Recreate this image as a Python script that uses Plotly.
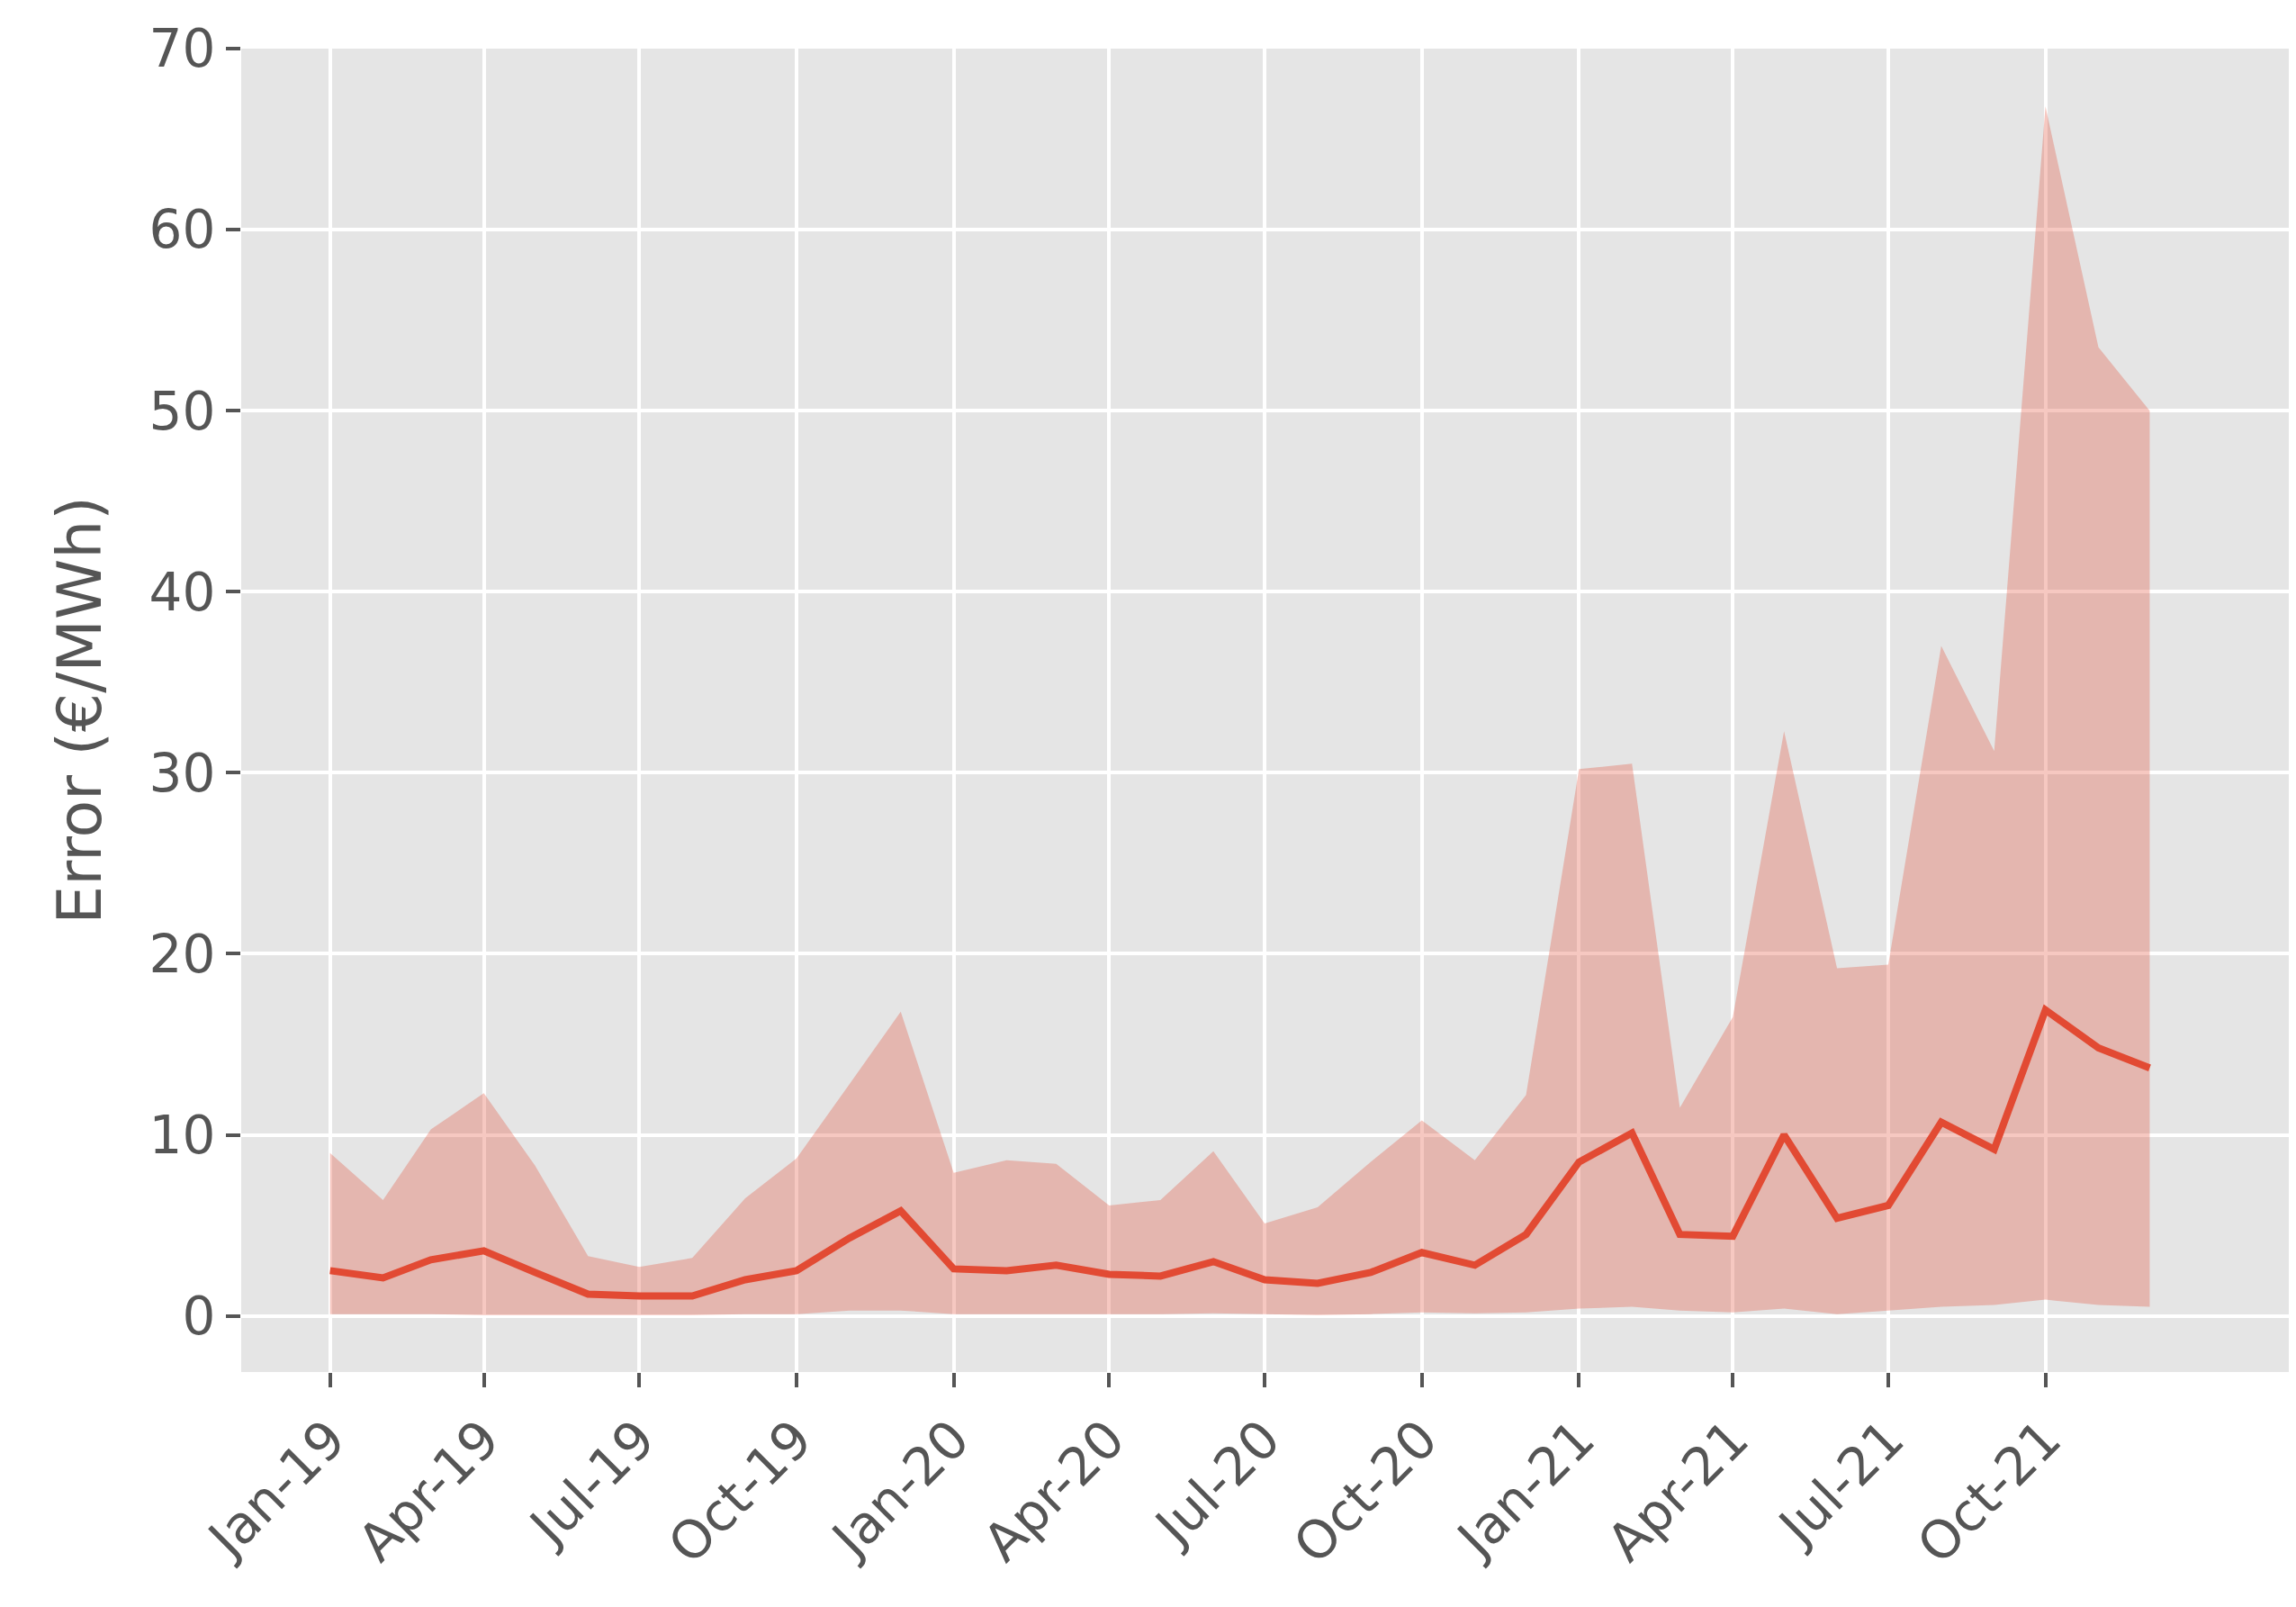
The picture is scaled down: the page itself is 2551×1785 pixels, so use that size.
import plotly.graph_objects as go
import pandas as pd

months = pd.date_range("2019-01-01", "2021-12-01", freq="MS").strftime("%Y-%m-%d").tolist()
median = [2.5,2.1,3.1,3.6,2.4,1.2,1.1,1.1,2.0,2.5,4.3,5.8,
          2.6,2.5,2.8,2.3,2.2,3.0,2.0,1.8,2.4,3.5,2.8,4.5,
          8.5,10.1,4.5,4.4,10.0,5.4,6.1,10.7,9.2,16.9,14.8,13.7]
upper = [9.0,6.4,10.3,12.3,8.3,3.3,2.7,3.2,6.5,8.7,12.8,16.8,
         7.9,8.6,8.4,6.1,6.4,9.1,5.1,6.0,8.5,10.8,8.6,12.2,
         30.2,30.5,11.5,16.5,32.3,19.2,19.4,37.0,31.2,66.8,53.5,50.0]
lower = [0.1,0.1,0.1,0.05,0.05,0.05,0.05,0.05,0.1,0.1,0.3,0.3,
         0.1,0.1,0.1,0.1,0.1,0.15,0.1,0.05,0.1,0.2,0.15,0.2,
         0.4,0.5,0.3,0.2,0.4,0.1,0.3,0.5,0.6,0.9,0.6,0.5]
tickvals = ["2019-01-01","2019-04-01","2019-07-01","2019-10-01","2020-01-01","2020-04-01",
            "2020-07-01","2020-10-01","2021-01-01","2021-04-01","2021-07-01","2021-10-01"]
ticktext = ["Jan-19","Apr-19","Jul-19","Oct-19","Jan-20","Apr-20","Jul-20","Oct-20",
            "Jan-21","Apr-21","Jul-21","Oct-21"]

fig = go.Figure()
fig.add_trace(go.Scatter(x=months, y=lower, mode="lines", line=dict(width=0), showlegend=False))
fig.add_trace(go.Scatter(x=months, y=upper, mode="lines", line=dict(width=0), fill="tonexty",
                         fillcolor="rgba(226,74,51,0.3)", showlegend=False))
fig.add_trace(go.Scatter(x=months, y=median, mode="lines", line=dict(color="#E24A33", width=8),
                         showlegend=False))
fig.update_layout(
    width=2551, height=1785, margin=dict(l=260, r=13, t=39, b=269),
    plot_bgcolor="#E5E5E5", paper_bgcolor="white",
    font=dict(family="DejaVu Sans", size=58, color="#555555"),
)
fig.update_xaxes(range=["2018-11-10", "2022-02-22"], tickvals=tickvals, ticktext=ticktext,
                 tickangle=-45, gridcolor="white", gridwidth=4, ticks="outside", ticklen=16,
                 tickwidth=4, tickcolor="#555555", showline=False, zeroline=False)
fig.update_yaxes(range=[-3.1, 70], tickvals=[0,10,20,30,40,50,60,70], gridcolor="white",
                 gridwidth=4, ticks="outside", ticklen=16, tickwidth=4, tickcolor="#555555",
                 zeroline=False, title=dict(text="Error (€/MWh)", font=dict(size=68), standoff=30))
fig.write_html("out.html")
